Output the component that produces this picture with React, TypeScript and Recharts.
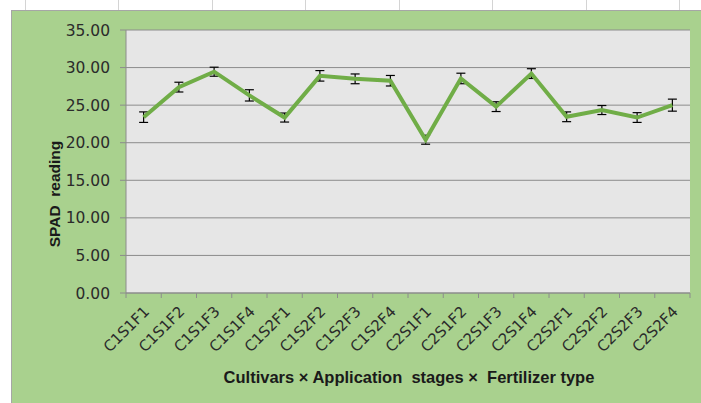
import React from "react";
import { CartesianGrid, ErrorBar, Line, LineChart, XAxis, YAxis } from "recharts";

const categories = [
  "C1S1F1", "C1S1F2", "C1S1F3", "C1S1F4",
  "C1S2F1", "C1S2F2", "C1S2F3", "C1S2F4",
  "C2S1F1", "C2S1F2", "C2S1F3", "C2S1F4",
  "C2S2F1", "C2S2F2", "C2S2F3", "C2S2F4",
];
const spad = [23.4, 27.4, 29.45, 26.3, 23.35, 28.9, 28.5, 28.25, 20.4, 28.55, 24.8, 29.2, 23.45, 24.35, 23.35, 25.0];
const spadErr = [0.7, 0.65, 0.6, 0.75, 0.6, 0.7, 0.65, 0.7, 0.6, 0.7, 0.65, 0.65, 0.65, 0.6, 0.65, 0.8];
const yTicks = [0, 5, 10, 15, 20, 25, 30, 35];

const W = 701;
const H = 403;
const PLOT_LEFT = 126;
const PLOT_RIGHT = 11;
const BAND = (W - PLOT_LEFT - PLOT_RIGHT) / categories.length;
const sheetCols = [24.5, 118, 211.5, 305, 398.5, 492, 585.5, 679];

const data = categories.map((name, i) => ({ name, spad: spad[i], err: spadErr[i] }));

function CategoryTick(props: any) {
  const { x, y, payload, index } = props;
  const left = x - BAND / 2;
  return (
    <g>
      <line x1={left} y1={y} x2={left} y2={y + 5} stroke="#8c8c8c" />
      {index === categories.length - 1 && (
        <line x1={x + BAND / 2} y1={y} x2={x + BAND / 2} y2={y + 5} stroke="#8c8c8c" />
      )}
      <text
        x={0}
        y={0}
        textAnchor="end"
        dominantBaseline="central"
        fontSize={15}
        fontFamily="DejaVu Sans"
        fill="#2b2b2b"
        transform={`translate(${x + 3},${y + 16}) rotate(-45)`}
      >
        {payload.value}
      </text>
    </g>
  );
}

const xTitle = (props: any) => {
  const { viewBox } = props;
  return (
    <text
      x={viewBox.x + viewBox.width / 2 + 1}
      y={377}
      textAnchor="middle"
      dominantBaseline="central"
      fontSize={16.5}
      fontWeight="bold"
      fontFamily="Liberation Sans"
      fill="#1a1a1a"
      xmlSpace="preserve"
    >
      Cultivars × Application  stages ×  Fertilizer type
    </text>
  );
};

const yTitle = () => (
  <text
    x={0}
    y={0}
    textAnchor="middle"
    dominantBaseline="central"
    fontSize={15.5}
    fontWeight="bold"
    fontFamily="Liberation Sans"
    fill="#1a1a1a"
    xmlSpace="preserve"
    transform="translate(54,194) rotate(-90)"
  >
    SPAD  reading
  </text>
);

export default function App() {
  return (
    <div style={{ position: "absolute", left: 0, top: 0, width: W, height: H, background: "#fff", overflow: "hidden" }}>
      {sheetCols.map((cx) => (
        <div key={cx} style={{ position: "absolute", left: cx, top: 0, width: 1, height: 10, background: "#d4d4d4" }} />
      ))}
      <div
        style={{
          position: "absolute",
          left: 11,
          top: 10,
          width: W,
          height: H,
          background: "#a9d18e",
          borderTop: "1px solid #a6a6a6",
          borderLeft: "1px solid #a6a6a6",
        }}
      />
      <div style={{ position: "absolute", left: 0, top: 0 }}>
        <LineChart width={W} height={H} data={data} margin={{ top: 30, right: PLOT_RIGHT, left: 66, bottom: 10 }}>
          <CartesianGrid vertical={false} fill="#e6e6e6" stroke="#8c8c8c" strokeWidth={1} />
          <XAxis
            dataKey="name"
            interval={0}
            height={100}
            padding={{ left: BAND / 2, right: BAND / 2 }}
            tickSize={0}
            tickMargin={0}
            tickLine={false}
            axisLine={{ stroke: "#8c8c8c" }}
            tick={<CategoryTick />}
            label={xTitle}
          />
          <YAxis
            width={60}
            domain={[0, 35]}
            ticks={yTicks}
            tickFormatter={(v: number) => v.toFixed(2)}
            tickSize={6}
            tickMargin={10}
            tickLine={{ stroke: "#8c8c8c" }}
            axisLine={{ stroke: "#8c8c8c" }}
            tick={{ fontSize: 15.5, fontFamily: "DejaVu Sans", fill: "#2b2b2b" }}
            label={yTitle}
          />
          <Line
            type="linear"
            dataKey="spad"
            stroke="#70ad47"
            strokeWidth={4}
            dot={false}
            activeDot={false}
            isAnimationActive={false}
          >
            <ErrorBar dataKey="err" width={4.5} stroke="#000" strokeWidth={1.2} isAnimationActive={false} />
          </Line>
        </LineChart>
      </div>
    </div>
  );
}
